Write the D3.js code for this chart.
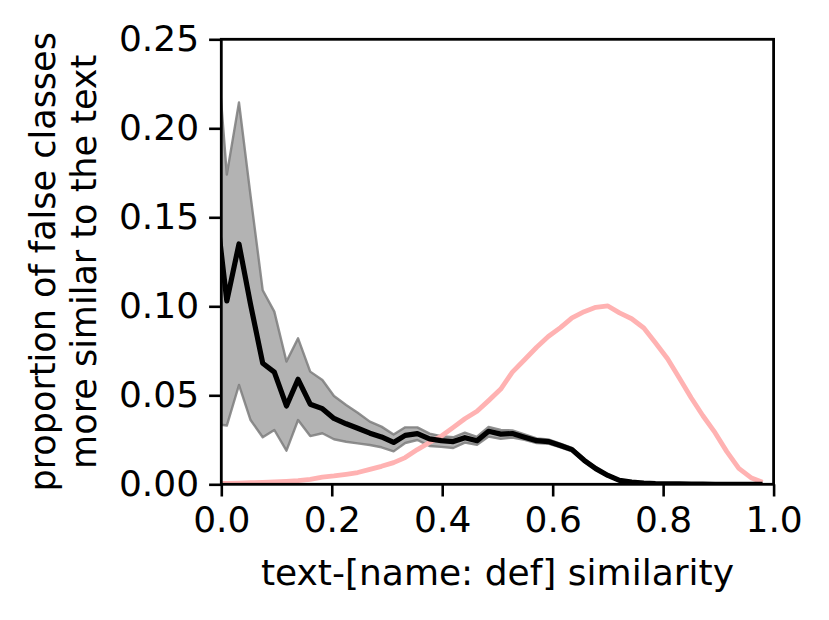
<!DOCTYPE html>
<html>
<head>
<meta charset="utf-8">
<script src="https://cdn.jsdelivr.net/npm/d3@7"></script>
<style>
  body { margin: 0; background: #fff; }
  svg { display: block; }
  text { font-family: "DejaVu Sans", sans-serif; }
</style>
</head>
<body>
<svg id="chart" width="829" height="620"></svg>
<script>
// similarity grid (first point sits just left of 0 and is clipped)
const simX = [-0.012, 0.010, 0.032, 0.053, 0.075, 0.096, 0.118, 0.139, 0.161, 0.183,
  0.204, 0.226, 0.247, 0.269, 0.290, 0.312, 0.333, 0.355, 0.377, 0.398,
  0.420, 0.441, 0.463, 0.484, 0.506, 0.527, 0.549, 0.571, 0.592, 0.614,
  0.635, 0.657, 0.678, 0.700, 0.721, 0.743, 0.765, 0.786, 0.808, 0.829,
  0.851, 0.872, 0.894, 0.915, 0.937, 0.959, 0.980];

// proportion of false classes more similar (mean)
const meanProp = [0.162, 0.103, 0.135, 0.101, 0.068, 0.063, 0.044, 0.059, 0.045, 0.0425,
  0.037, 0.034, 0.0315, 0.0287, 0.0266, 0.0235, 0.0275, 0.0285, 0.0255, 0.0245,
  0.024, 0.0262, 0.0245, 0.0298, 0.0282, 0.0285, 0.0265, 0.0245, 0.024, 0.0218,
  0.0195, 0.0135, 0.0088, 0.005, 0.0022, 0.0012, 0.0007, 0.0004, 0.0003, 0.0002,
  0.0001, 0.0001, 0, 0, 0, 0, 0];

// band upper / lower
const upperProp = [0.262, 0.174, 0.2145, 0.162, 0.109, 0.097, 0.069, 0.082, 0.0633, 0.0586,
  0.0496, 0.0446, 0.0402, 0.0352, 0.0324, 0.028, 0.032, 0.032, 0.0285, 0.027,
  0.0264, 0.029, 0.0267, 0.0322, 0.0305, 0.0303, 0.028, 0.0258, 0.0252, 0.0229,
  0.0205, 0.0143, 0.0094, 0.0055, 0.0026, 0.0015, 0.0009, 0.0005, 0.0004, 0.0003,
  0.0002, 0.0001, 0, 0, 0, 0, 0];
const lowerProp = [0.034, 0.033, 0.0558, 0.0361, 0.0264, 0.0305, 0.0189, 0.0361, 0.0271, 0.0287,
  0.0253, 0.0239, 0.023, 0.0221, 0.0208, 0.0185, 0.0232, 0.0249, 0.0215, 0.021,
  0.0204, 0.0234, 0.0222, 0.0268, 0.0255, 0.0262, 0.025, 0.0232, 0.0228, 0.0207,
  0.0185, 0.0127, 0.0082, 0.0045, 0.0018, 0.0009, 0.0005, 0.0003, 0.0002, 0.0001,
  0.0001, 0, 0, 0, 0, 0, 0];

// distribution of similarities (pink curve)
const distProp = [0.0004, 0.0005, 0.0007, 0.0009, 0.0011, 0.0014, 0.0017, 0.0021, 0.0028, 0.0040,
  0.0047, 0.0056, 0.0066, 0.0084, 0.0101, 0.0122, 0.0150, 0.0195, 0.0235, 0.0270,
  0.0320, 0.0368, 0.0410, 0.0470, 0.0535, 0.0630, 0.0700, 0.0770, 0.0830, 0.0880,
  0.0935, 0.0970, 0.0994, 0.1002, 0.0963, 0.0930, 0.0878, 0.0795, 0.0705, 0.0598,
  0.0485, 0.0385, 0.0290, 0.0185, 0.0090, 0.0037, 0.0012];

const xTicks = [0.0, 0.2, 0.4, 0.6, 0.8, 1.0];
const yTicks = [0.00, 0.05, 0.10, 0.15, 0.20, 0.25];

const margin = { left: 221.3, top: 39.3, right: 829 - 773.6, bottom: 620 - 484.3 };
const width = 829 - margin.left - margin.right;
const height = 620 - margin.top - margin.bottom;
const fontPx = 36;

const svg = d3.select('#chart');

const x = d3.scaleLinear().domain([0, 1]).range([0, width]);
const y = d3.scaleLinear().domain([0, 0.25]).range([height, 0]);

svg.append('defs').append('clipPath')
    .attr('id', 'clip')
    .append('rect')
    .attr('width', width)
    .attr('height', height);

const g = svg.append('g')
    .attr('transform', `translate(${margin.left},${margin.top})`);

const plot = g.append('g').attr('clip-path', 'url(#clip)');

const rows = simX.map((v, i) => ({ x: v, m: meanProp[i], lo: lowerProp[i], hi: upperProp[i], d: distProp[i] }));

// shaded band
plot.append('path')
    .datum(rows)
    .attr('d', d3.area().x(d => x(d.x)).y0(d => y(d.lo)).y1(d => y(d.hi)))
    .attr('fill', '#b3b3b3')
    .attr('stroke', 'none');

['hi', 'lo'].forEach(k => {
    plot.append('path')
        .datum(rows)
        .attr('d', d3.line().x(d => x(d.x)).y(d => y(d[k])))
        .attr('fill', 'none')
        .attr('stroke', '#7d7d7d')
        .attr('stroke-opacity', 0.85)
        .attr('stroke-width', 2.4)
        .attr('stroke-linejoin', 'round');
});

// pink distribution
plot.append('path')
    .datum(rows)
    .attr('d', d3.line().x(d => x(d.x)).y(d => y(d.d)))
    .attr('fill', 'none')
    .attr('stroke', '#ffb2b2')
    .attr('stroke-width', 4.8)
    .attr('stroke-linejoin', 'round');

// mean line
plot.append('path')
    .datum(rows)
    .attr('d', d3.line().x(d => x(d.x)).y(d => y(d.m)))
    .attr('fill', 'none')
    .attr('stroke', '#000')
    .attr('stroke-width', 5.2)
    .attr('stroke-linejoin', 'round');

// axes
const xAxis = g.append('g')
    .attr('transform', `translate(0,${height})`)
    .call(d3.axisBottom(x).tickValues(xTicks).tickFormat(d3.format('.1f')).tickSize(12.2).tickPadding(10));
const yAxis = g.append('g')
    .call(d3.axisLeft(y).tickValues(yTicks).tickFormat(d3.format('.2f')).tickSize(12.2).tickPadding(10));

[xAxis, yAxis].forEach(a => {
    a.select('.domain').remove();
    a.selectAll('.tick line').attr('stroke', '#000').attr('stroke-width', 2.6);
    a.selectAll('.tick text')
        .attr('fill', '#000')
        .style('font-size', fontPx + 'px');
});

// spines
g.append('rect')
    .attr('width', width)
    .attr('height', height)
    .attr('fill', 'none')
    .attr('stroke', '#000')
    .attr('stroke-width', 2.8);

// labels
svg.append('text')
    .attr('x', margin.left + width / 2)
    .attr('y', 585)
    .attr('text-anchor', 'middle')
    .style('font-size', fontPx + 'px')
    .text('text-[name: def] similarity');

const yl = svg.append('text')
    .attr('transform', `translate(0,${margin.top + height / 2}) rotate(-90)`)
    .attr('text-anchor', 'middle')
    .style('font-size', '35px');
yl.append('tspan').attr('x', 0).attr('y', 54.5).text('proportion of false classes');
yl.append('tspan').attr('x', 0).attr('y', 96).text('more similar to the text');
</script>
</body>
</html>
